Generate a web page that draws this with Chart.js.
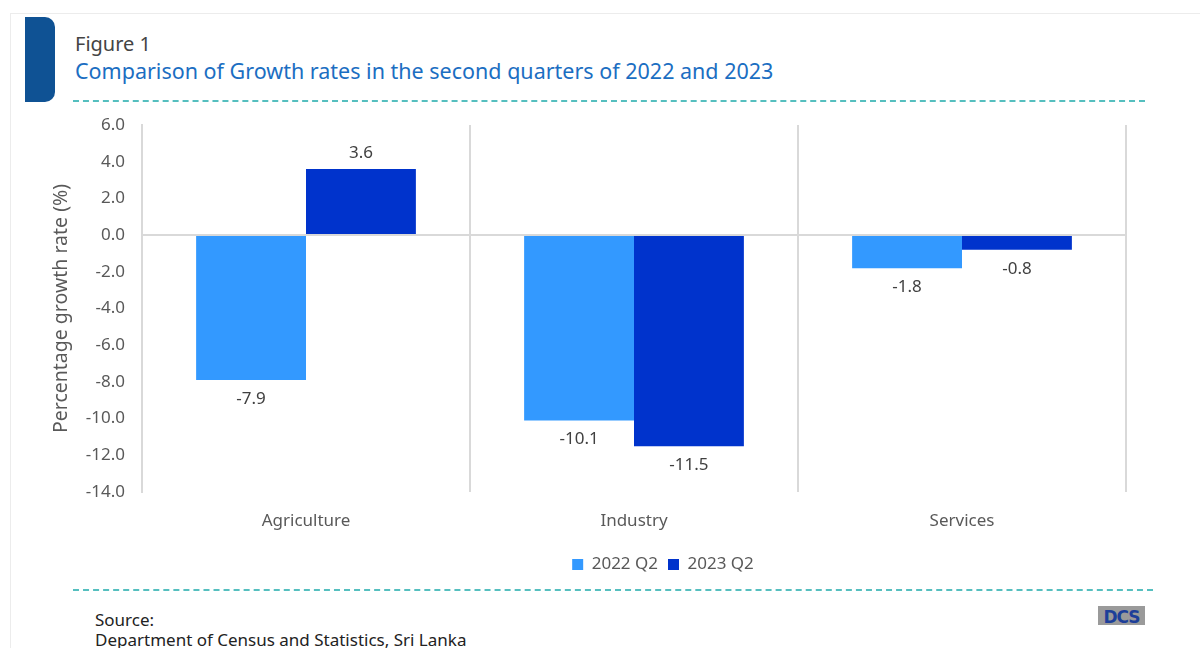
<!DOCTYPE html>
<html>
<head>
<meta charset="utf-8">
<script src="https://cdn.jsdelivr.net/npm/chart.js@4.4.1/dist/chart.umd.min.js"></script>
<style>
    html, body { margin: 0; padding: 0; background: #fff; }
    body { width: 1200px; height: 648px; position: relative; overflow: hidden; font-family: 'Noto Sans', sans-serif; }
    .frame { position: absolute; left: 10px; top: 13px; width: 1300px; height: 700px; border: 1px solid #ececec; }
    .tab { position: absolute; left: 25px; top: 17px; width: 30px; height: 85px; background: #0f5294; border-radius: 0 10px 10px 0; }
    .fig { position: absolute; left: 75px; top: 30px; font-size: 20px; color: #444; }
    .title { position: absolute; left: 75px; top: 56px; font-size: 21.5px; color: #1b6ec2; }
    .dash { position: absolute; height: 0; border-top: 2px dashed #55bfbf; }
    .src { position: absolute; left: 95px; top: 610px; font-size: 17px; color: #222; line-height: 20px; }
    .logo { position: absolute; left: 1098px; top: 606px; width: 47px; height: 19px; background: #9a9a9a; color: #1d3f99; font: bold 17px 'DejaVu Sans', sans-serif; line-height: 22px; text-align: center; overflow: hidden; letter-spacing: -1px; }
    #chart { position: absolute; left: 0; top: 0; }
</style>
</head>
<body>
<div class="frame"></div>
<div class="tab"></div>
<div class="fig">Figure 1</div>
<div class="title">Comparison of Growth rates in the second quarters of 2022 and 2023</div>
<div class="dash" style="left:73px; top:100px; width:1072px;"></div>
<div class="dash" style="left:73px; top:589px; width:1080px;"></div>
<div class="src">Source:<br>Department of Census and Statistics, Sri Lanka</div>
<div class="logo">DCS</div>
<canvas id="chart" width="1200" height="648"></canvas>
<script>
// Chart data
const categories = ['Agriculture', 'Industry', 'Services'];
const seriesNames = ['2022 Q2', '2023 Q2'];
const growth2022 = [-7.9, -10.1, -1.8];
const growth2023 = [3.6, -11.5, -0.8];
const yMin = -14;
const yMax = 6;
const yStep = 2;

const textColor = '#595959';
const lineColor = '#d9d9d9';
const fontFamily = "'Noto Sans', sans-serif";

// Value labels above positive bars, below negative ones
const barLabels = {
    id: 'barLabels',
    afterDatasetsDraw(chart) {
        const ctx = chart.ctx;
        ctx.save();
        ctx.font = '17px ' + fontFamily;
        ctx.fillStyle = '#404040';
        ctx.textAlign = 'center';
        ctx.textBaseline = 'middle';
        chart.data.datasets.forEach((ds, i) => {
            const meta = chart.getDatasetMeta(i);
            meta.data.forEach((bar, j) => {
                const v = ds.data[j];
                const y = v >= 0 ? bar.y - 16 : bar.y + 19;
                ctx.fillText(v.toFixed(1), bar.x, y);
            });
        });
        ctx.restore();
    }
};

// Nudge the legend right so it sits under the plot like the original
const legendShift = {
    id: 'legendShift',
    afterLayout(chart) {
        if (!chart.legend) return;
        chart.legend.left += 75;
        chart.legend.right += 75;
    }
};

new Chart(document.getElementById('chart'), {
    type: 'bar',
    data: {
        labels: categories,
        datasets: [
            {
                label: seriesNames[0],
                data: growth2022,
                backgroundColor: '#3399ff',
                categoryPercentage: 0.67,
                barPercentage: 1.0
            },
            {
                label: seriesNames[1],
                data: growth2023,
                backgroundColor: '#0033cc',
                categoryPercentage: 0.67,
                barPercentage: 1.0
            }
        ]
    },
    options: {
        responsive: false,
        animation: false,
        layout: {
            padding: { left: 50, right: 74, top: 125, bottom: 65 }
        },
        plugins: {
            legend: {
                position: 'bottom',
                labels: {
                    color: textColor,
                    boxWidth: 11,
                    boxHeight: 11,
                    padding: 10,
                    font: { family: fontFamily, size: 17 }
                }
            },
            tooltip: { enabled: false }
        },
        scales: {
            x: {
                grid: {
                    offset: true,
                    color: lineColor,
                    lineWidth: 2,
                    drawTicks: false
                },
                border: { display: false },
                ticks: {
                    color: textColor,
                    padding: 19,
                    font: { family: fontFamily, size: 17 }
                },
                afterFit(scale) { scale.height = 54; }
            },
            y: {
                min: yMin,
                max: yMax,
                ticks: {
                    stepSize: yStep,
                    color: textColor,
                    padding: 17,
                    font: { family: fontFamily, size: 17 },
                    callback: (v) => v.toFixed(1)
                },
                grid: {
                    drawTicks: false,
                    lineWidth: 2,
                    color: (ctx) => (ctx.tick && ctx.tick.value === 0 ? lineColor : 'rgba(0,0,0,0)')
                },
                border: { display: true, color: lineColor, width: 2 },
                title: {
                    display: true,
                    text: 'Percentage growth rate (%)',
                    color: textColor,
                    padding: { top: 0, bottom: 0 },
                    font: { family: fontFamily, size: 19.5 }
                },
                afterFit(scale) { scale.width = 92; }
            }
        }
    },
    plugins: [barLabels, legendShift]
});
</script>
</body>
</html>
